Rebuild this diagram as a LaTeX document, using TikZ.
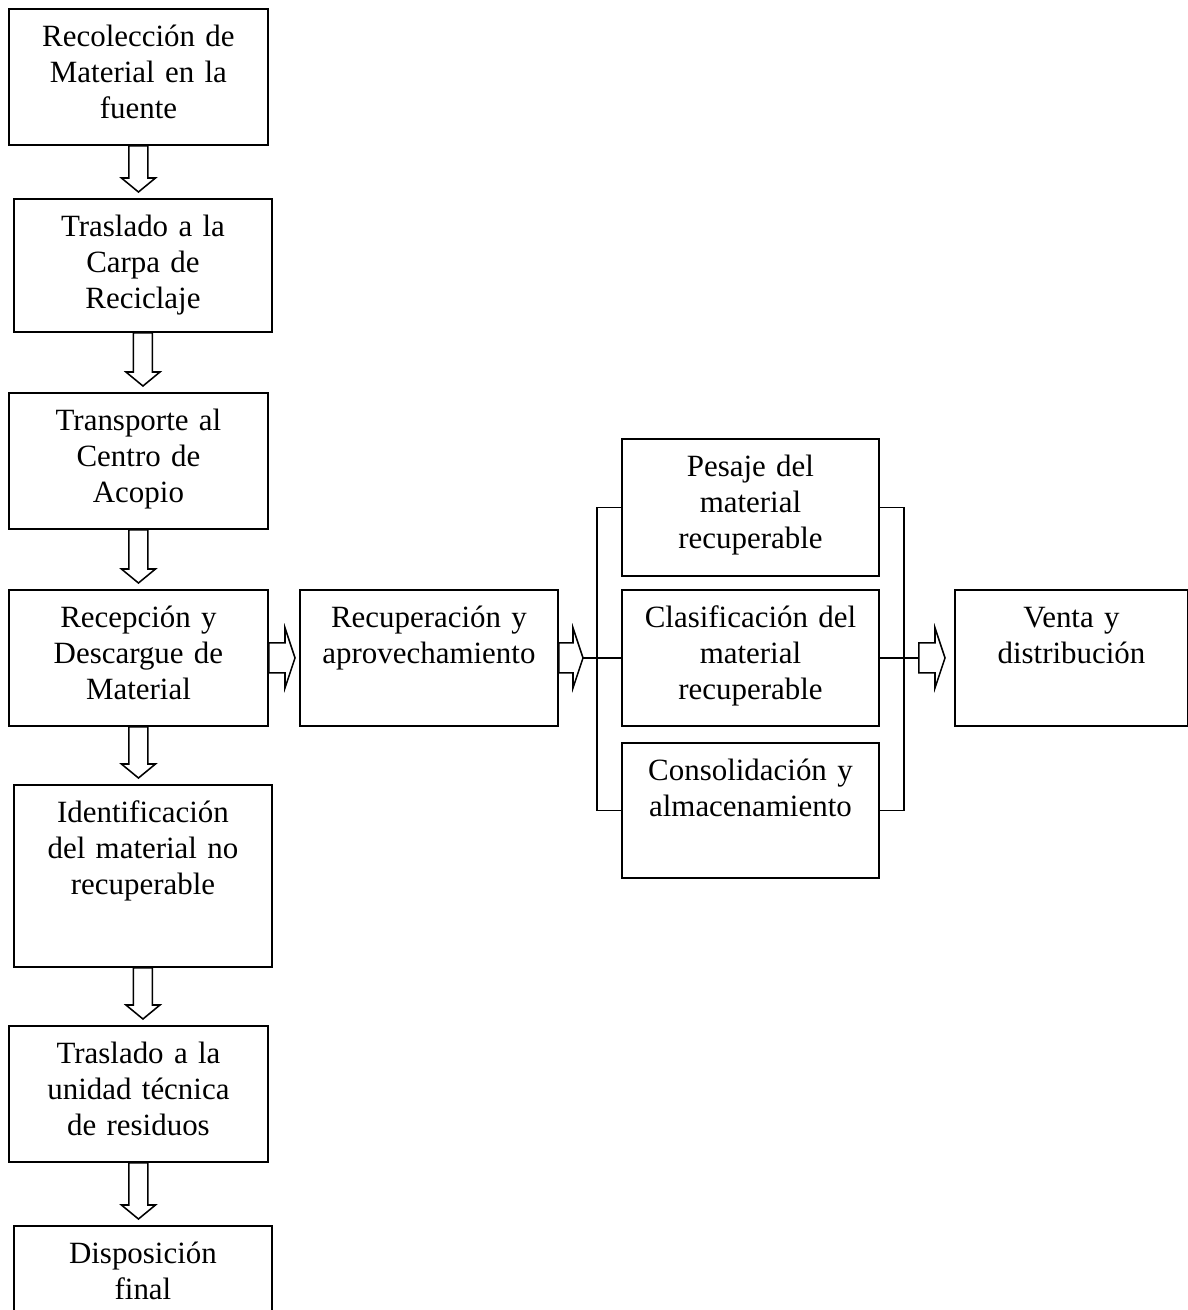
\documentclass[tikz,border=0pt]{standalone}
\usepackage{fontspec}
\setmainfont{Liberation Serif}
\usetikzlibrary{calc}

% flecha hueca hacia abajo, de #1 a #2
\newcommand{\flechaabajo}[2]{
  \coordinate (fa) at (#1.south);
  \coordinate (fb) at (#1.south |- #2.north);
  \draw[hueca] ($(fa)+(-9.5,0)$) -- ($(fb)+(-9.5,-20)$) -- ($(fb)+(-17,-20)$) -- ($(fb)+(0,-6)$)
    -- ($(fb)+(17,-20)$) -- ($(fb)+(9.5,-20)$) -- ($(fa)+(9.5,0)$) -- cycle;
}
% flecha hueca hacia la derecha, de #1 hasta la punta #2
\newcommand{\flechader}[2]{
  \coordinate (fa) at (#1);
  \coordinate (fb) at (#1 -| #2);
  \draw[hueca] ($(fa)+(0,-15)$) -- ($(fb)+(-10,-15)$) -- ($(fb)+(-10,-30)$) -- (fb)
    -- ($(fb)+(-10,30)$) -- ($(fb)+(-10,15)$) -- ($(fa)+(0,15)$) -- cycle;
}

\begin{document}
\begin{tikzpicture}[
    x=0.025cm, y=-0.025cm,
    caja/.style={draw, line width=1.3pt, inner sep=0pt, align=center, anchor=north west,
      text height=0.95cm, text depth=2.45cm, text width=6.475cm,
      font=\fontsize{22}{25.6}\selectfont},
    hueca/.style={draw, line width=1.1pt, fill=white, line join=miter},
    linea/.style={line width=1.3pt}
  ]
  \clip (0,0) rectangle (1188,1310);

  % columna izquierda
  \node[caja] (recoleccion) at (8,8) {Recolección de\\Material en la\\fuente};
  \node[caja, text width=6.45cm, text depth=2.375cm] (carpa) at (13,198) {Traslado a la\\Carpa de\\Reciclaje};
  \node[caja] (transporte) at (8,392) {Transporte al\\Centro de\\Acopio};
  \node[caja] (recepcion) at (8,589) {Recepción y\\Descargue de\\Material};
  \node[caja, text width=6.45cm, text depth=3.6cm] (identif) at (13,784) {Identificación\\del material no\\recuperable};
  \node[caja] (unidad) at (8,1025) {Traslado a la\\unidad técnica\\de residuos};
  \node[caja, text width=6.45cm] (disposicion) at (13,1225) {Disposición\\final};

  % recuperacion y bloque derecho
  \node[caja, text width=6.45cm] (recuperacion) at (299,589) {Recuperación y\\aprovechamiento};
  \node[caja, text width=6.425cm, text depth=2.475cm] (pesaje) at (621,438) {Pesaje del\\material\\recuperable};
  \node[caja, text width=6.425cm] (clasif) at (621,589) {Clasificación del\\material\\recuperable};
  \node[caja, text width=6.425cm, text depth=2.425cm] (consolid) at (621,742) {Consolidación y\\almacenamiento};
  \node[caja, text width=5.825cm] (venta) at (954,589) {Venta y\\distribución};

  \flechaabajo{recoleccion}{carpa}
  \flechaabajo{carpa}{transporte}
  \flechaabajo{transporte}{recepcion}
  \flechaabajo{recepcion}{identif}
  \flechaabajo{identif}{unidad}
  \flechaabajo{unidad}{disposicion}

  % llaves
  \draw[linea] (pesaje.west) -- ++(-24,0) |- (consolid.west);
  \draw[linea] (pesaje.east) -- ++(24,0) |- (consolid.east);
  \coordinate (p1) at ($(recuperacion.west)+(-4,0)$);
  \coordinate (p2) at ($(clasif.west)+(-38,0)$);
  \coordinate (a3) at ($(clasif.east)+(39,0)$);
  \coordinate (p3) at ($(venta.west)+(-9,0)$);
  \draw[linea] (p2) -- (clasif.west);
  \draw[linea] (clasif.east) -- (a3);

  \flechader{recepcion.east}{p1}
  \flechader{recuperacion.east}{p2}
  \flechader{a3}{p3}
\end{tikzpicture}
\end{document}
